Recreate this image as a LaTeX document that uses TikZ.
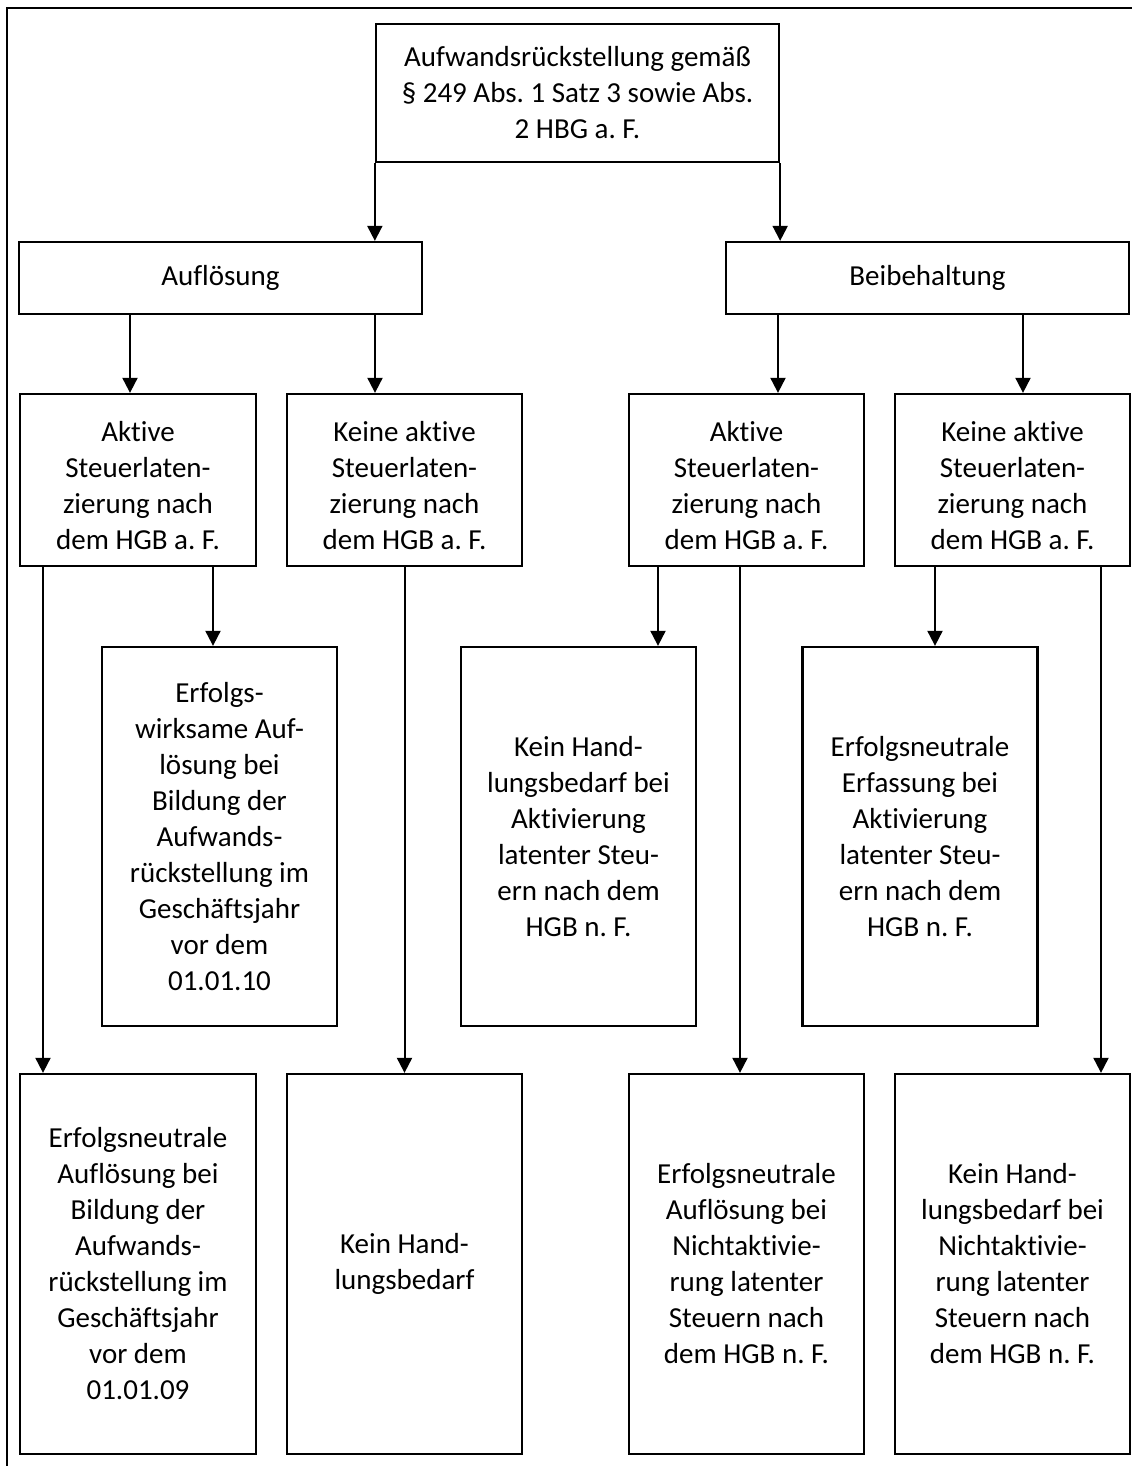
\documentclass[tikz,border=0pt]{standalone}
\usepackage{fontspec}
\setmainfont{Carlito}[Ligatures={NoCommon}]
\frenchspacing
\usetikzlibrary{arrows.meta}
\newcommand{\oben}{\rule{0pt}{32pt}}
\tikzset{
  kasten/.style={draw, line width=2.3pt, align=center, inner sep=0pt,
    minimum width=235pt, font=\fontsize{29}{36}\selectfont},
  pfeil/.style={line width=2pt, -{Triangle[length=15pt,width=15pt]}}
}
\begin{document}
\begin{tikzpicture}[x=1pt,y=-1pt]
\useasboundingbox (0,0) rectangle (1132,1466);
\draw[line width=2pt] (6.5,1466) -- (6.5,8.5) -- (1132,8.5);
% oberste Ebene
\node[kasten, minimum width=403pt, minimum height=138pt] (rst) at (577.5,93) {Aufwandsrückstellung gemäß\\§ 249 Abs. 1 Satz 3 sowie Abs.\\2 HBG a. F.};
\node[kasten, minimum width=403pt, minimum height=72pt] (aufl) at (220.5,278) {Auflösung};
\node[kasten, minimum width=403pt, minimum height=72pt] (beib) at (927.5,278) {Beibehaltung};
% Steuerlatenzierung
\node[kasten, minimum width=236pt, minimum height=172pt] (akt1) at (138,480) {\oben Aktive\\Steuerlaten-\\zierung nach\\dem HGB a. F.};
\node[kasten, minimum height=172pt] (kakt1) at (404.5,480) {\oben Keine aktive\\Steuerlaten-\\zierung nach\\dem HGB a. F.};
\node[kasten, minimum height=172pt] (akt2) at (746.5,480) {\oben Aktive\\Steuerlaten-\\zierung nach\\dem HGB a. F.};
\node[kasten, minimum height=172pt] (kakt2) at (1012.5,480) {\oben Keine aktive\\Steuerlaten-\\zierung nach\\dem HGB a. F.};
% mittlere Ebene
\node[kasten, minimum height=379pt] (erfw) at (219.5,836.5) {Erfolgs-\\wirksame Auf-\\lösung bei\\Bildung der\\Aufwands-\\rückstellung im\\Geschäftsjahr\\vor dem\\01.01.10};
\node[kasten, minimum height=379pt] (khakt) at (578.5,836.5) {Kein Hand-\\lungsbedarf bei\\Aktivierung\\latenter Steu-\\ern nach dem\\HGB n. F.};
\node[kasten, minimum height=379pt] (erfakt) at (920,836.5) {Erfolgsneutrale\\Erfassung bei\\Aktivierung\\latenter Steu-\\ern nach dem\\HGB n. F.};
% unterste Ebene
\node[kasten, minimum width=236pt, minimum height=380pt] (erfn) at (138,1264) {Erfolgsneutrale\\Auflösung bei\\Bildung der\\Aufwands-\\rückstellung im\\Geschäftsjahr\\vor dem\\01.01.09};
\node[kasten, minimum height=380pt] (kh) at (404.5,1264) {Kein Hand-\\lungsbedarf};
\node[kasten, minimum height=380pt] (erfnakt) at (746.5,1264) {Erfolgsneutrale\\Auflösung bei\\Nichtaktivie-\\rung latenter\\Steuern nach\\dem HGB n. F.};
\node[kasten, minimum height=380pt] (khnakt) at (1012.5,1264) {Kein Hand-\\lungsbedarf bei\\Nichtaktivie-\\rung latenter\\Steuern nach\\dem HGB n. F.};
% Pfeile
\draw[pfeil] (rst.south west) -- (rst.south west |- aufl.north);
\draw[pfeil] (rst.south east) -- (rst.south east |- beib.north);
\draw[pfeil] (aufl.south -| 130,0) -- (akt1.north -| 130,0);
\draw[pfeil] (aufl.south -| 375,0) -- (kakt1.north -| 375,0);
\draw[pfeil] (beib.south -| 778,0) -- (akt2.north -| 778,0);
\draw[pfeil] (beib.south -| 1023,0) -- (kakt2.north -| 1023,0);
\draw[pfeil] (akt1.south -| 213,0) -- (erfw.north -| 213,0);
\draw[pfeil] (akt1.south -| 43,0) -- (erfn.north -| 43,0);
\draw[pfeil] (kakt1.south) -- (kh.north);
\draw[pfeil] (akt2.south -| 658,0) -- (khakt.north -| 658,0);
\draw[pfeil] (akt2.south -| 740,0) -- (erfnakt.north -| 740,0);
\draw[pfeil] (kakt2.south -| 935,0) -- (erfakt.north -| 935,0);
\draw[pfeil] (kakt2.south -| 1101,0) -- (khnakt.north -| 1101,0);
\end{tikzpicture}
\end{document}
